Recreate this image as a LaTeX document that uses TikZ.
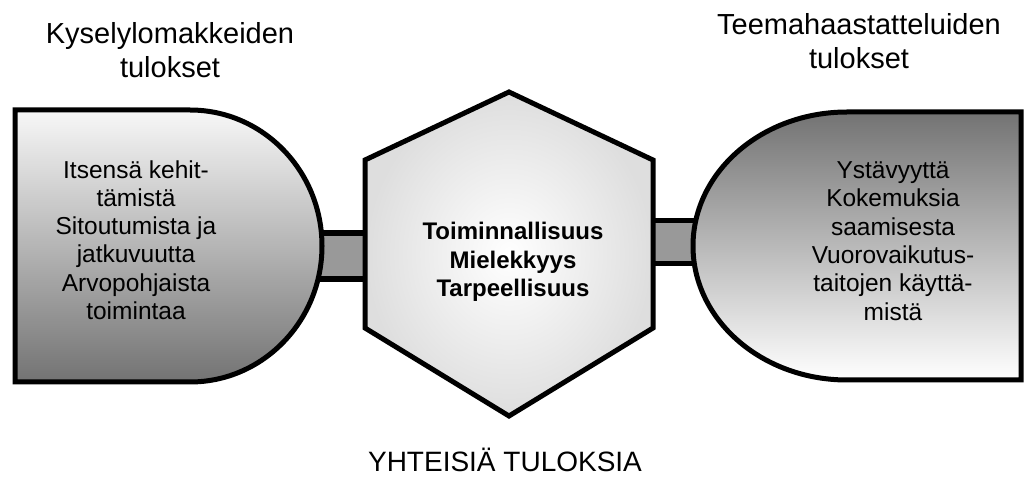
\documentclass[tikz,border=0pt]{standalone}
\usepackage{fontspec}
\setmainfont{Liberation Sans}
\usetikzlibrary{calc}

\begin{document}
\begin{tikzpicture}[x=1pt,y=1pt]%%tulokset

        \tikzstyle{outline} = [draw=black, line width=5pt, line join=miter]
        \tikzstyle{bar}     = [draw=black, line width=6pt, double=black!40, double distance=40pt]
        \tikzstyle{title}   = [align=center, font=\fontsize{29}{34}\selectfont]
        \tikzstyle{item}    = [align=center, font=\fontsize{24.5}{28.3}\selectfont]
        \useasboundingbox (0,0) rectangle (1026,477);

        % bar ends, hidden under the shapes
        \coordinate (kR) at (316,221);
        \coordinate (hL) at (372,221);
        \coordinate (hR) at (646,235);
        \coordinate (tL) at (702,235);
        \draw [bar] (kR) -- (hL);
        \draw [bar, line width=5pt, double distance=38pt] (hR) -- (tL);

        % left shape
        \draw [outline, top color=black!3, bottom color=black!55]
                (15,367) -- (190,367) arc[start angle=90, end angle=-90, x radius=132, y radius=136]
                -- (15,95) -- cycle;
        % right shape
        \draw [outline, top color=black!55, bottom color=white]
                (1021,365) -- (847,365) arc[start angle=90, end angle=270, x radius=154, y radius=134]
                -- (1021,97) -- cycle;
        % hexagon
        \draw [outline, inner color=white, outer color=black!13]
                (509,385) -- (653,317) -- (653,149) -- (509,61) -- (365,149) -- (365,317) -- cycle;

        \node [title](kysely) at (170,427) {Kyselylomakkeiden\\tulokset};
        \node [title](teema) at (859,436) {Teemahaastatteluiden\\tulokset};
        \node [item](kitems) at (136,237) {Itsens\"a kehit-\\t\"amist\"a\\Sitoutumista ja\\jatkuvuutta\\Arvopohjaista\\toimintaa};
        \node [item](titems) at (893,236) {Yst\"avyytt\"a\\Kokemuksia\\saamisesta\\Vuorovaikutus-\\taitojen k\"aytt\"a-\\mist\"a};
        \node [item, font=\bfseries\fontsize{24}{28.5}\selectfont](yhteiset) at (513,215) {Toiminnallisuus\\Mielekkyys\\Tarpeellisuus};
        \node [title, inner sep=0pt, font=\fontsize{28}{33}\selectfont](yht) at (505,17) {YHTEISI\"A TULOKSIA};
\end{tikzpicture}
\end{document}
